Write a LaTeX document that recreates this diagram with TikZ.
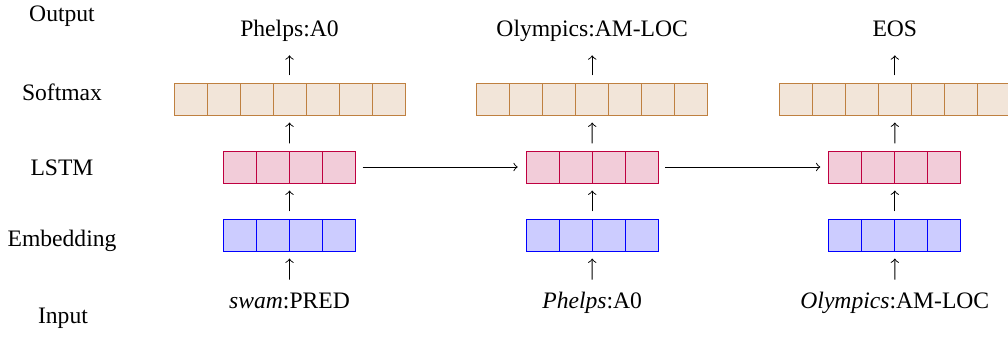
\documentclass[tikz,border=0pt]{standalone}
\usepackage{fontspec}
\setmainfont{Liberation Serif}
\begin{document}
\begin{tikzpicture}[x=0.4236pt,y=-0.4236pt,
  cell/.style={draw,inner sep=0pt,outer sep=0pt,minimum width=13.98pt,minimum height=13.56pt},
  smcell/.style={cell,draw=brown,fill=brown!20},
  lscell/.style={cell,draw=purple,fill=purple!20},
  emcell/.style={cell,draw=blue,fill=blue!20},
  lab/.style={font=\fontsize{10}{12}\selectfont,inner sep=0pt,anchor=base},
  txt/.style={lab,text height=7pt,text depth=2.5pt},
  up/.style={-to,shorten <=3.2pt,shorten >=3.2pt},
  rnn/.style={-to,shorten <=3pt,shorten >=3.6pt}]
\useasboundingbox (0,0) rectangle (1008,336);
\node[lab] (lout) at (62,21.7) {Output};
\node[lab] (lsm) at (62,100) {Softmax};
\node[lab] (lls) at (62,175) {LSTM};
\node[lab] (lem) at (62,246.7) {Embedding};
\node[lab] (lin) at (63,323) {Input};
\foreach \c/\x/\o/\n in {1/174/{Phelps:A0}/{\textit{swam}:PRED},
                        2/476.7/{Olympics:AM-LOC}/{\textit{Phelps}:A0},
                        3/779.3/{EOS}/{\textit{Olympics}:AM-LOC}} {
  \foreach \i in {1,...,7} \node[smcell] (sm\c-\i) at ({\x+33*\i-16.5},99) {};
  \foreach \i in {1,...,4} \node[lscell] (ls\c-\i) at ({\x+49.5+33*\i-16.5},167) {};
  \foreach \i in {1,...,4} \node[emcell] (em\c-\i) at ({\x+49.5+33*\i-16.5},235) {};
  \node[txt] (out\c) at ({\x+115.5},36) {\o};
  \node[txt] (in\c) at ({\x+115.5},308.3) {\n};
  \draw[up] (em\c-2.north east) -- (ls\c-2.south east);
  \draw[up] (ls\c-2.north east) -- (sm\c-4.south);
  \draw[up,shorten >=5.5pt] (sm\c-4.north) -- (out\c.south);
  \draw[up,shorten <=5pt] (in\c.north) -- (em\c-2.south east);
}
\draw[rnn] (ls1-4.east) -- (ls2-1.west);
\draw[rnn] (ls2-4.east) -- (ls3-1.west);
\end{tikzpicture}
\end{document}
